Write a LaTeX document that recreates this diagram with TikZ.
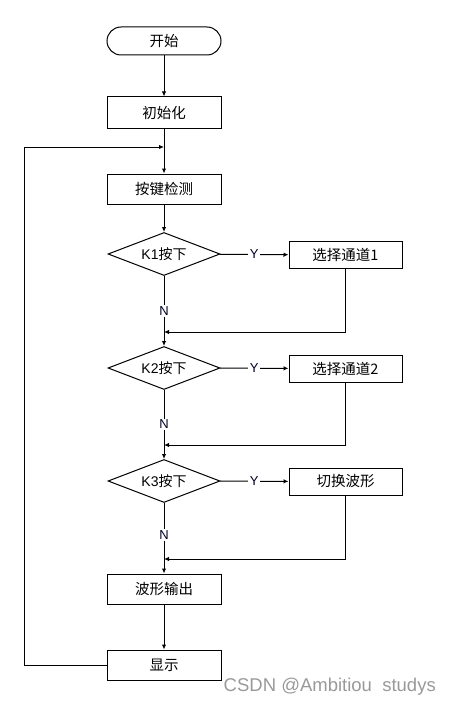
\documentclass[tikz,border=0pt]{standalone}
\usepackage{fontspec}
\setmainfont{Liberation Sans}
\newfontfamily\cjk{Noto Sans CJK SC}
\usetikzlibrary{shapes.geometric,arrows.meta}
\begin{document}
\begin{tikzpicture}[x=1pt,y=-1pt,
  box/.style={draw,line width=1pt,rectangle,minimum width=114pt,minimum height=30pt,inner sep=0pt,font=\fontsize{14.5}{16}\selectfont\cjk},
  sbox/.style={box,minimum width=113pt,minimum height=27pt},
  startbox/.style={box,rounded corners=14pt,minimum height=28pt},
  dec/.style={draw,line width=1pt,diamond,minimum width=112pt,minimum height=43pt,inner sep=0pt,aspect=2.6,font=\fontsize{14}{16}\selectfont},
  arr/.style={line width=1pt,-{Latex[length=5pt,width=4.5pt]}},
  lbl/.style={fill=white,inner sep=1.5pt,font=\fontsize{13}{15}\selectfont,text=black!85!blue}]
\useasboundingbox (0,0) rectangle (451,706);
\node[startbox] (start) at (164,41) {开始};
\node[box,minimum height=31pt] (init) at (164,112.5) {初始化};
\node[box] (scan) at (164,189) {按键检测};
\node[dec] (d1) at (164,254) {K1\cjk 按下};
\node[dec] (d2) at (164,368) {K2\cjk 按下};
\node[dec] (d3) at (164,481) {K3\cjk 按下};
\node[sbox] (b1) at (345.5,255) {选择通道1};
\node[sbox] (b2) at (345.5,368.5) {选择通道2};
\node[sbox] (b3) at (345.5,481.5) {切换波形};
\node[box] (out) at (164,589) {波形输出};
\node[box] (disp) at (164,665) {显示};
\coordinate (j0) at (164,147);
\coordinate (lc) at (24,665);
\coordinate (r1) at (164,332);
\coordinate (r2) at (164,445);
\coordinate (r3) at (164,559);
\draw[arr] (start) -- (init);
\draw[arr] (init) -- (scan);
\draw[arr] (disp.west) -- (lc) |- (j0);
\draw[arr] (scan) -- (d1);
\draw[arr] (d1) -- node[lbl]{Y} (b1);
\draw[arr] (d2) -- node[lbl]{Y} (b2);
\draw[arr] (d3) -- node[lbl]{Y} (b3);
\draw[arr] (d1) -- node[lbl,pos=0.5]{N} (d2);
\draw[arr] (d2) -- node[lbl,pos=0.5]{N} (d3);
\draw[arr] (d3) -- node[lbl,pos=0.46]{N} (out);
\draw[arr] (b1.south) |- (r1);
\draw[arr] (b2.south) |- (r2);
\draw[arr] (b3.south) |- (r3);
\draw[arr] (out) -- (disp);
\node[text=black!40,font=\fontsize{18.5}{20}\selectfont,anchor=east,inner sep=0pt] (wm) at (436,687) {CSDN @Ambitiou\ \ studys};
\end{tikzpicture}
\end{document}
